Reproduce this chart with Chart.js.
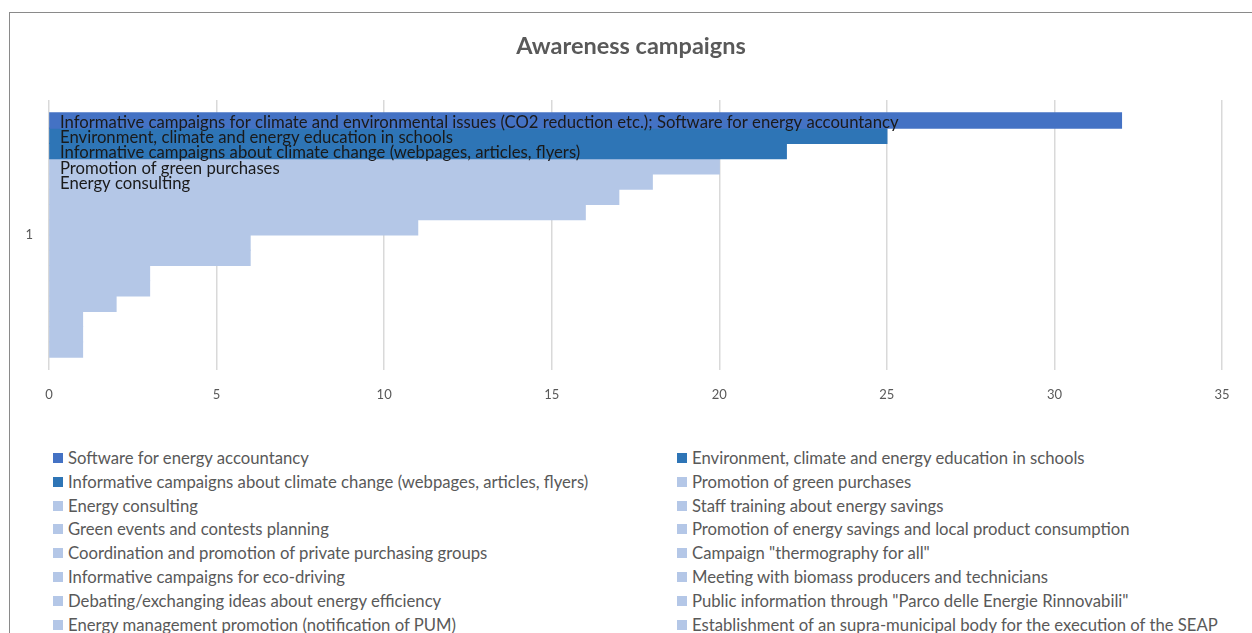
<!DOCTYPE html>
<html>
<head>
<meta charset="utf-8">
<title>Awareness campaigns</title>
<script src="https://cdn.jsdelivr.net/npm/chart.js@4.4.1/dist/chart.umd.min.js"></script>
<style>
  body { margin: 0; background: #fff; font-family: Lato, sans-serif; }
  #frame { position: absolute; left: 9px; top: 12px; width: 1260px; height: 640px;
           border-left: 1px solid #8a8a8a; border-top: 1px solid #8a8a8a; }
  #chart { position: absolute; left: 0; top: 0; }
  #title { position: absolute; left: 331px; width: 600px; top: 31px; text-align: center;
           font-size: 23.5px; font-weight: bold; color: #595959; line-height: 28px; }
  #legend { position: absolute; left: 53px; top: 446px; display: grid;
            grid-template-columns: 624px 560px; grid-auto-rows: 23.85px;
            font-size: 16.7px; color: #595959; }
  .item { display: flex; align-items: center; white-space: nowrap; }
  .box { width: 10px; height: 10px; margin-right: 5px; flex: none; }
</style>
</head>
<body>
<div id="frame"></div>
<canvas id="chart" width="1252" height="440"></canvas>
<div id="title"></div>
<div id="legend"></div>
<script>
const chartTitle = 'Awareness campaigns';
const categories = ['1'];

const seriesNames = [
  'Software for energy accountancy',
  'Environment, climate and energy education in schools',
  'Informative campaigns about climate change (webpages, articles, flyers)',
  'Promotion of green purchases',
  'Energy consulting',
  'Staff training about energy savings',
  'Green events and contests planning',
  'Promotion of energy savings and local product consumption',
  'Coordination and promotion of private purchasing groups',
  'Campaign "thermography for all"',
  'Informative campaigns for eco-driving',
  'Meeting with biomass producers and technicians',
  'Debating/exchanging ideas about energy efficiency',
  'Public information through "Parco delle Energie Rinnovabili"',
  'Energy management promotion (notification of PUM)',
  'Establishment of an supra-municipal body for the execution of the SEAP'
];

const seriesValues = [32, 25, 22, 20, 18, 17, 16, 11, 6, 6, 3, 3, 2, 1, 1, 1];

const seriesColors = [
  '#4472C4', '#2E75B6', '#2E75B6', '#B4C7E7', '#B4C7E7', '#B4C7E7', '#B4C7E7', '#B4C7E7',
  '#B4C7E7', '#B4C7E7', '#B4C7E7', '#B4C7E7', '#B4C7E7', '#B4C7E7', '#B4C7E7', '#B4C7E7'
];

// labels Excel printed at the base of the first bars
const barLabels = [
  'Informative campaigns for climate and environmental issues (CO2 reduction etc.); Software for energy accountancy',
  'Environment, climate and energy education in schools',
  'Informative campaigns about climate change (webpages, articles, flyers)',
  'Promotion of green purchases',
  'Energy consulting'
];

const xTicks = [0, 5, 10, 15, 20, 25, 30, 35];

const barLabelPlugin = {
  id: 'barLabels',
  afterDatasetsDraw(chart) {
    const { ctx, chartArea } = chart;
    ctx.save();
    ctx.font = '16.7px Lato';
    ctx.fillStyle = '#1a1a1a';
    ctx.textBaseline = 'middle';
    barLabels.forEach((text, i) => {
      const bar = chart.getDatasetMeta(i).data[0];
      ctx.fillText(text, chartArea.left + 11, bar.y + 2);
    });
    ctx.restore();
  }
};

const chart = new Chart(document.getElementById('chart'), {
  type: 'bar',
  data: {
    labels: categories,
    datasets: seriesNames.map((name, i) => ({
      label: name,
      data: [seriesValues[i]],
      backgroundColor: seriesColors[i],
      borderWidth: 0,
      inflateAmount: 0.6,
      barPercentage: 1,
      categoryPercentage: 0.904
    }))
  },
  options: {
    indexAxis: 'y',
    responsive: false,
    animation: false,
    devicePixelRatio: 1,
    layout: { padding: { left: 0, right: 30, top: 100, bottom: 0 } },
    plugins: {
      legend: { display: false },
      tooltip: { enabled: false },
      title: { display: false }
    },
    scales: {
      x: {
        min: 0,
        max: 35,
        afterBuildTicks: scale => { scale.ticks = xTicks.map(v => ({ value: v })); },
        afterFit: scale => { scale.height = 70; },
        grid: { color: '#d9d9d9', lineWidth: 1.5, drawTicks: false },
        border: { display: false },
        ticks: { color: '#595959', font: { family: 'Lato', size: 13 }, padding: 17 }
      },
      y: {
        afterFit: scale => { scale.width = 49; },
        grid: { display: false },
        border: { display: false },
        ticks: { color: '#595959', font: { family: 'Lato', size: 13 }, padding: 8 }
      }
    }
  },
  plugins: [barLabelPlugin]
});

document.getElementById('title').textContent = chartTitle;
document.getElementById('legend').innerHTML = chart.data.datasets
  .map(ds => `<div class="item"><span class="box" style="background:${ds.backgroundColor}"></span>${ds.label}</div>`)
  .join('');
</script>
</body>
</html>
